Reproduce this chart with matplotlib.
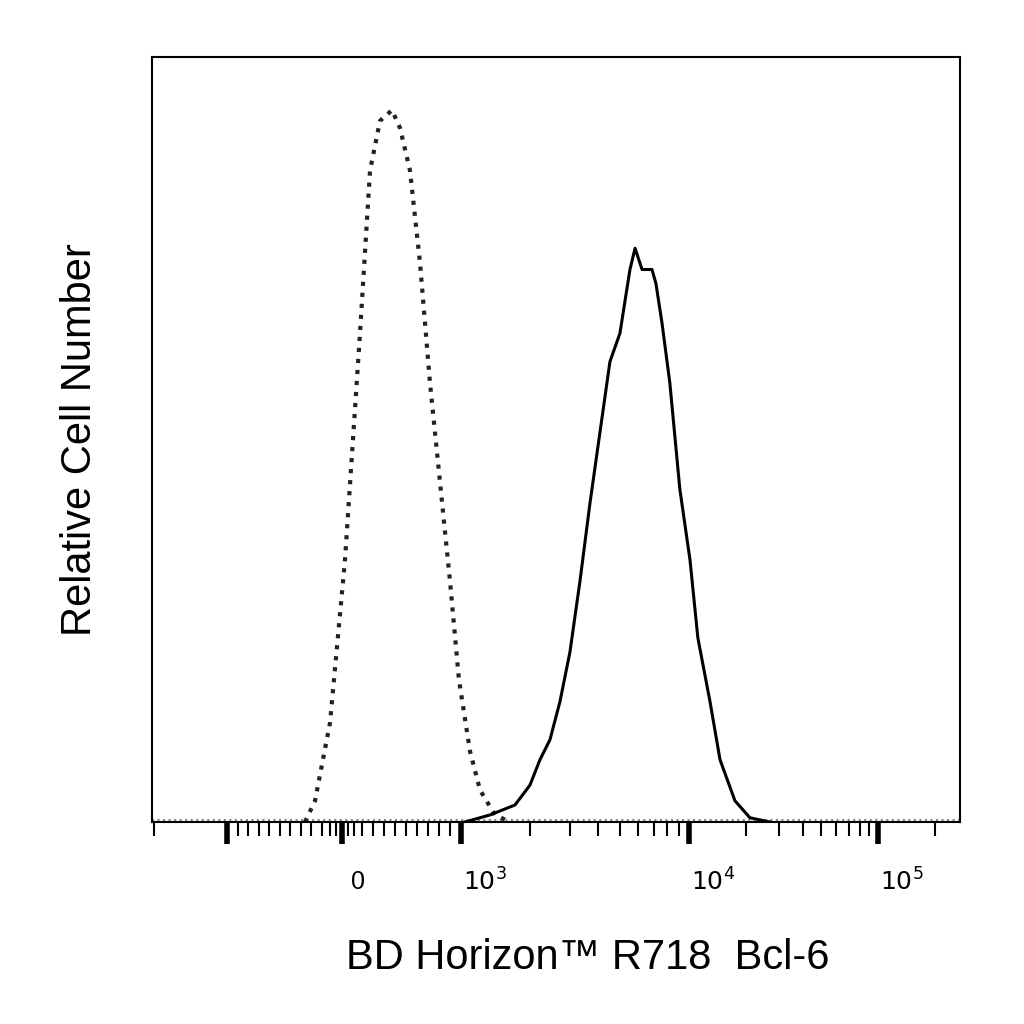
import numpy as np
import matplotlib
matplotlib.use('Agg')
import matplotlib.pyplot as plt
from matplotlib.scale import FuncScale

plt.rcParams['font.family'] = ['Liberation Sans', 'DejaVu Sans']

# isotype control (dotted)
iso_x = [-261, -166, -60, 15, 90, 173, 264, 373, 445, 536, 627, 718, 809, 900, 982,
         1095, 1212, 1410, 1640]
iso_y = [0, 3, 14, 37, 69, 92, 99, 100.5, 98, 92, 79, 62, 48, 34, 20,
         10, 4.5, 1, 0]

# Bcl-6 stained (solid)
bcl_x = [1041, 1340, 1725, 2006, 2220, 2455, 2717, 3005, 3325, 3678, 4068, 4501, 4979,
         5508, 5800, 6224, 6612, 6882, 7163, 7609, 8240, 9116, 10122, 11139, 12915,
         14590, 17500, 21000, 26800]
bcl_y = [0, 1, 2.4, 5.2, 8.8, 11.6, 17, 24, 34, 45, 55, 65, 69,
         78, 81, 78, 78, 78, 76, 70.5, 62, 47, 37, 26, 17,
         8.8, 3, 0.6, 0]

tick_vals = [0, 1000, 1e4, 1e5]
tick_text = ['0', '$10^3$', '$10^4$', '$10^5$']

# linear near zero, log beyond +-1000, anchored on the axis
anchor_v = np.array([-7400, -1000, -100, 100, 1000, 1e4, 1e5, 2.7e5])
anchor_p = np.array([152, 227, 322, 362, 461, 689, 878, 960], dtype=float)

def to_t(v):
    v = np.asarray(v, float)
    a = np.abs(v)
    return np.where(a <= 1000, v, np.sign(v) * (1000 + 1000 * np.log10(np.maximum(a, 1e-9) / 1000)))

def from_t(t):
    t = np.asarray(t, float)
    a = np.abs(t)
    return np.where(a <= 1000, t, np.sign(t) * 1000 * 10 ** ((a - 1000) / 1000))

anchor_t = to_t(anchor_v)

def fwd(v):
    return np.interp(to_t(v), anchor_t, anchor_p)

def inv(p):
    return from_t(np.interp(np.asarray(p, float), anchor_p, anchor_t))

fig = plt.figure(figsize=(10.24, 10.24), dpi=100)
ax = fig.add_axes([152 / 1024, 1 - 822 / 1024, 808 / 1024, 765 / 1024])
ax.set_xscale(FuncScale(ax, (fwd, inv)))
ax.set_xlim(-7400, 2.7e5)
ax.set_ylim(0, 108)

ax.plot(ax.get_xlim(), [0.3, 0.3], ':', color='#888888', lw=1.5)
ax.plot(iso_x, iso_y, ':', color='#222222', lw=3)
ax.plot(bcl_x, bcl_y, '-', color='black', lw=2.2)

major = [-1000, 0, 1000, 1e4, 1e5]
minor = ([-7000] + list(range(-900, -100, 100)) + [-100, -60, -30, 30, 60, 100]
         + list(range(200, 1000, 100))
         + list(range(2000, 10000, 1000)) + list(range(20000, 100000, 10000)) + [200000])
ax.set_xticks(major)
ax.set_xticks(minor, minor=True)
ax.set_xticklabels([])
ax.tick_params(axis='x', which='major', direction='out', length=16, width=4)
ax.tick_params(axis='x', which='minor', direction='out', length=10, width=1.5)
ax.set_yticks([])
for s in ax.spines.values():
    s.set_linewidth(1.5)

# tick labels sit to the right of their ticks
dx = [16, 24, 24, 24]
for v, txt, d in zip(tick_vals, tick_text, dx):
    xp = (fwd(v) + d - 152) / 808
    ax.text(xp, -0.078, txt, transform=ax.transAxes, ha='center', va='center', fontsize=18)

ax.text((588 - 152) / 808, -0.178, 'BD Horizon™ R718  Bcl-6', transform=ax.transAxes,
        ha='center', va='center', fontsize=30)
ax.set_ylabel('Relative Cell Number', fontsize=30)
ax.yaxis.set_label_coords((100 - 152) / 808, (1024 - 440 - 202) / 765)

fig.savefig('out.png', dpi=100)
